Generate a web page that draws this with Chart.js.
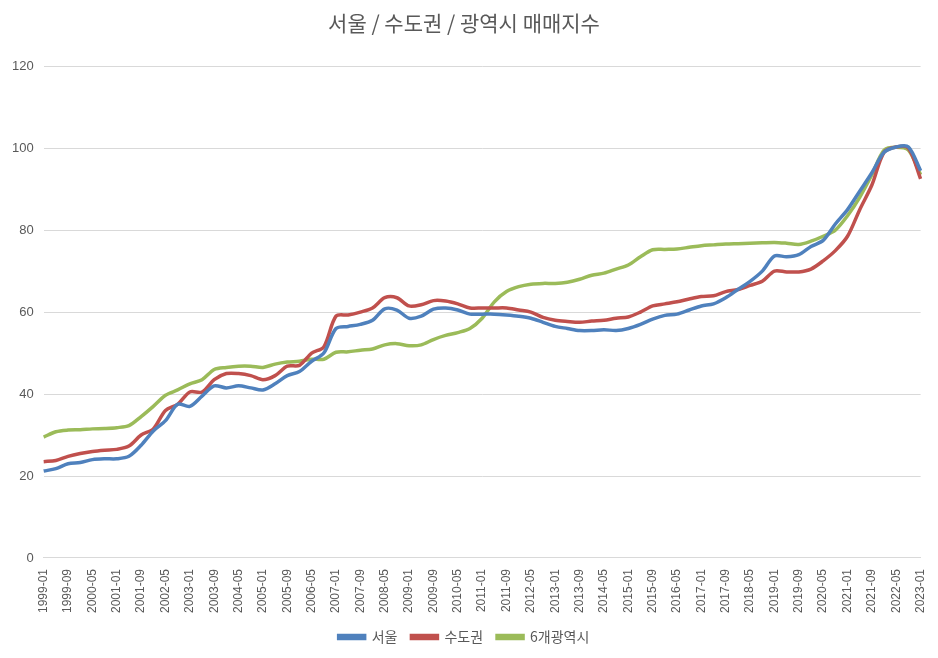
<!DOCTYPE html>
<html>
<head>
<meta charset="utf-8">
<script src="https://cdn.jsdelivr.net/npm/chart.js@4"></script>
<style>
  html, body { margin: 0; padding: 0; background: #fff; }
  #wrap { width: 938px; height: 658px; }
</style>
</head>
<body>
<div id="wrap"><canvas id="c"></canvas></div>
<script>
// sampled every 4 months: 1999-01, 1999-05, 1999-09, ... 2023-01
const seoul = [
  21.2, 21.8, 23.0, 23.3, 24.0, 24.2, 24.2, 24.8, 27.5, 31.0, 33.5, 37.5,
  37.0, 39.5, 42.0, 41.5, 42.0, 41.5, 41.0, 42.5, 44.5, 45.5, 48.0, 50.0,
  56.0, 56.5, 57.0, 58.0, 60.8, 60.5, 58.5, 59.0, 60.7, 61.0, 60.5, 59.5,
  59.5, 59.5, 59.3, 59.0, 58.5, 57.5, 56.5, 56.0, 55.5, 55.5, 55.7, 55.5,
  56.0, 57.0, 58.3, 59.2, 59.5, 60.5, 61.5, 62.0, 63.5, 65.5, 67.5, 70.0,
  73.7, 73.5, 74.0, 76.0, 77.5, 81.5, 85.0, 89.5, 94.0, 99.0, 100.3, 100.3, 94.5
];
const metro = [
  23.5, 23.8, 24.8, 25.5, 26.0, 26.3, 26.5, 27.3, 30.0, 31.5, 36.0, 37.5,
  40.5, 40.5, 43.5, 45.0, 45.0, 44.5, 43.5, 44.5, 46.8, 47.0, 50.0, 51.5,
  59.0, 59.3, 60.0, 61.0, 63.5, 63.5, 61.5, 61.8, 62.8, 62.7, 62.0, 61.0,
  61.0, 61.0, 61.0, 60.5, 60.0, 58.7, 58.0, 57.7, 57.5, 57.8, 58.0, 58.5,
  58.8, 60.0, 61.5, 62.0, 62.5, 63.2, 63.8, 64.0, 65.0, 65.5, 66.5, 67.5,
  70.0, 69.8, 69.8, 70.5, 72.5, 75.0, 78.5, 85.0, 91.0, 99.0, 100.3, 100.0, 92.5
];
const sixCities = [
  29.5, 30.8, 31.2, 31.3, 31.5, 31.6, 31.8, 32.3, 34.5, 37.0, 39.7, 41.0,
  42.5, 43.5, 46.0, 46.5, 46.8, 46.8, 46.5, 47.3, 47.8, 48.0, 48.5, 48.5,
  50.2, 50.3, 50.7, 51.0, 52.0, 52.3, 51.8, 52.0, 53.3, 54.3, 55.0, 56.0,
  58.5, 62.5, 65.0, 66.2, 66.8, 67.0, 67.0, 67.3, 68.0, 69.0, 69.5, 70.5,
  71.5, 73.5, 75.2, 75.3, 75.4, 75.8, 76.2, 76.4, 76.6, 76.7, 76.8, 76.9,
  77.0, 76.8, 76.5, 77.3, 78.5, 80.0, 83.5, 88.0, 93.5, 99.5, 100.2, 99.5, 93.5
];
const seriesNames = ['서울', '수도권', '6개광역시'];
const seriesColors = ['#4f81bd', '#c0504d', '#9bbb59'];

const months = [];
for (let y = 1999; y <= 2023; y++) {
  for (let m = 1; m <= 12; m++) {
    if (y === 2023 && m > 1) break;
    months.push(y + '-' + String(m).padStart(2, '0'));
  }
}

function toMonthly(samples) {
  const out = months.map(() => null);
  samples.forEach((v, i) => { out[i * 4] = v; });
  return out;
}

const datasets = [seoul, metro, sixCities].map((arr, i) => ({
  label: seriesNames[i],
  data: toMonthly(arr),
  borderColor: seriesColors[i],
  backgroundColor: seriesColors[i],
  borderWidth: 3.5,
  pointRadius: 0,
  tension: 0.3,
  spanGaps: true,
}));

new Chart(document.getElementById('c'), {
  type: 'line',
  data: { labels: months, datasets },
  options: {
    responsive: true,
    maintainAspectRatio: false,
    animation: false,
    layout: { padding: { left: 2, right: 12, top: 4, bottom: 4 } },
    plugins: {
      title: {
        display: true,
        text: '서울 / 수도권 / 광역시 매매지수',
        color: '#595959',
        font: { family: 'Noto Sans CJK KR', size: 21, weight: 'normal' },
        padding: { top: 6, bottom: 31 },
      },
      legend: {
        position: 'bottom',
        labels: {
          color: '#595959',
          font: { family: 'Noto Sans CJK KR', size: 14 },
          boxWidth: 26,
          boxHeight: 3,
          padding: 14,
        },
      },
      tooltip: { enabled: false },
    },
    scales: {
      x: {
        grid: { display: false },
        border: { color: '#d9d9d9' },
        ticks: {
          autoSkip: false,
          maxRotation: 90,
          minRotation: 90,
          color: '#595959',
          font: { family: 'Liberation Sans', size: 12 },
          callback: (v, i) => (i % 8 === 0 ? months[i] : null),
        },
      },
      y: {
        min: 0,
        max: 120,
        ticks: {
          stepSize: 20,
          color: '#595959',
          font: { family: 'Liberation Sans', size: 13 },
          padding: 10,
        },
        grid: { color: '#d9d9d9', drawTicks: false },
        border: { display: false },
      },
    },
  },
});
</script>
</body>
</html>
